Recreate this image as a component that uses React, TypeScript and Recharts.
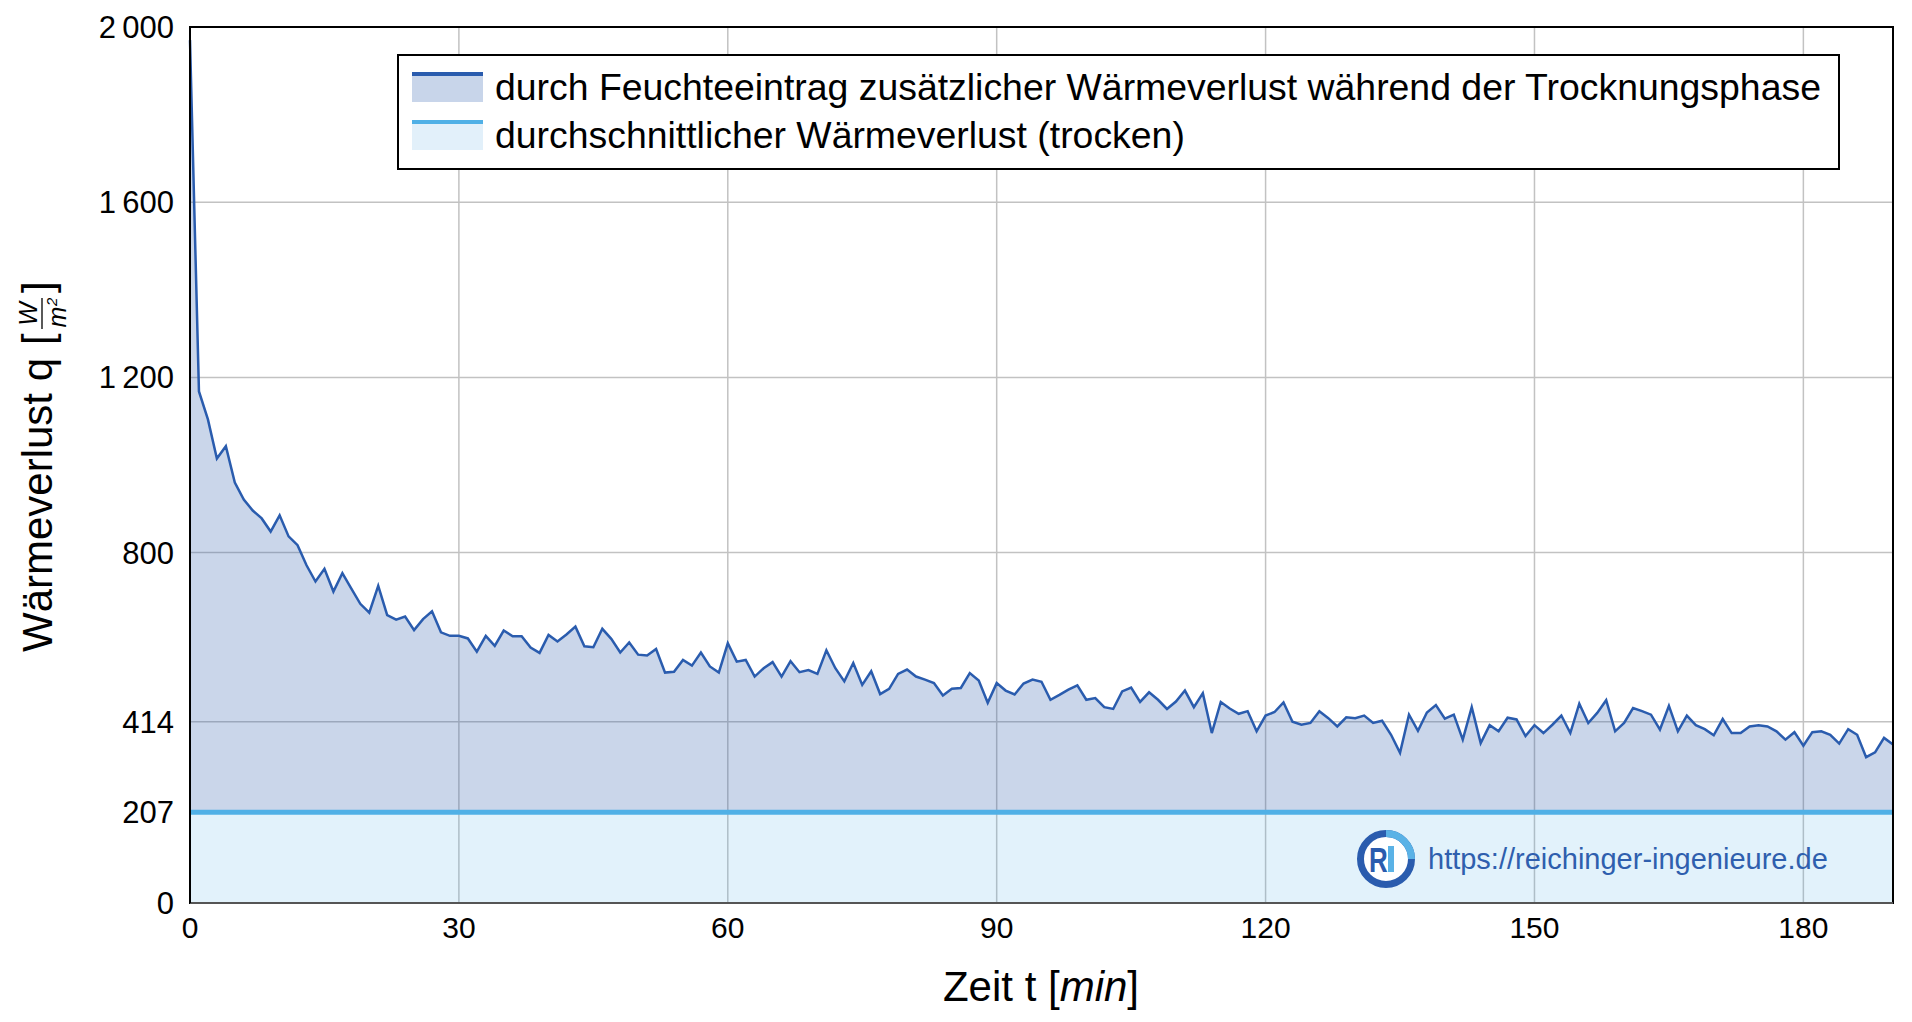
import { ComposedChart, Area, XAxis, YAxis, CartesianGrid, ReferenceArea, Legend } from 'recharts'

// heat loss q [W/m²] during drying, one reading per minute from t = 0
const heatLoss = [
  1970, 1168, 1104, 1015, 1043, 960, 921, 896, 878, 848,
  885, 837, 817, 771, 734, 763, 711, 753, 718, 683,
  663, 724, 657, 647, 654, 623, 648, 666, 618, 610,
  610, 604, 574, 610, 587, 622, 609, 609, 583, 571,
  612, 597, 613, 631, 586, 584, 626, 603, 572, 595,
  567, 565, 580, 526, 528, 555, 542, 572, 540, 526,
  593, 551, 555, 517, 536, 550, 517, 552, 527, 532,
  523, 577, 536, 506, 548, 498, 529, 477, 489, 523,
  533, 517, 510, 502, 474, 489, 491, 525, 508, 457,
  502, 485, 476, 501, 510, 505, 464, 475, 487, 497,
  464, 468, 447, 443, 483, 492, 459, 481, 464, 443,
  460, 485, 447, 479, 388, 459, 444, 432, 438, 392,
  428, 436, 458, 414, 407, 411, 438, 422, 403, 424,
  422, 428, 411, 416, 384, 343, 430, 393, 435, 452,
  421, 430, 373, 447, 365, 406, 392, 423, 419, 381,
  406, 388, 407, 428, 388, 455, 411, 434, 463, 392,
  411, 445, 438, 430, 396, 450, 392, 428, 406, 397,
  383, 420, 388, 388, 403, 406, 403, 392, 373, 390,
  359, 390, 392, 384, 364, 397, 384, 333, 344, 377,
  362,
]
const minutes = heatLoss.map((_, i) => i)
const AVG_DRY = 207

const xTicks = [0, 30, 60, 90, 120, 150, 180]
const yTicks = [0, 207, 414, 800, 1200, 1600, 2000]

const legendItems = [
  { label: 'durch Feuchteeintrag zusätzlicher Wärmeverlust während der Trocknungsphase', line: '#2a5cae', fill: '#c8d5ea' },
  { label: 'durchschnittlicher Wärmeverlust (trocken)', line: '#50b0e6', fill: '#e2f0fa' },
]

const data = minutes.map((t, i) => ({ t, q: [AVG_DRY, heatLoss[i]], avg: AVG_DRY }))

const FONT = '"Liberation Sans", Arial, sans-serif'

const fmt = (v: number) =>
  v >= 1000 ? `${Math.floor(v / 1000)}\u2009${String(v % 1000).padStart(3, '0')}` : String(v)

function LegendBox() {
  return (
    <div
      style={{
        width: 1443,
        height: 116,
        boxSizing: 'border-box',
        border: '2px solid #000',
        background: '#fff',
        fontFamily: FONT,
        paddingTop: 7,
      }}
    >
      {legendItems.map((it) => (
        <div key={it.label} style={{ display: 'flex', alignItems: 'center', height: 48, paddingLeft: 13 }}>
          <span style={{ display: 'inline-block', width: 71, height: 30, background: it.fill, borderTop: `4px solid ${it.line}`, boxSizing: 'border-box' }} />
          <span style={{ marginLeft: 12, fontSize: 37.4, color: '#000', whiteSpace: 'nowrap' }}>{it.label}</span>
        </div>
      ))}
    </div>
  )
}

function YTitle() {
  return (
    <g transform="translate(40,465) rotate(-90)" fontFamily={FONT} fill="#000">
      <text x={-187} y={12} fontSize={42}>Wärmeverlust q</text>
      <text x={120} y={12} fontSize={42}>[</text>
      <text x={151} y={-3} fontSize={25} fontStyle="italic" textAnchor="middle">W</text>
      <line x1={136} x2={167} y1={2} y2={2} stroke="#000" strokeWidth={1.3} />
      <text x={148} y={26} fontSize={25} fontStyle="italic" textAnchor="middle">m</text>
      <text x={159} y={17} fontSize={15} fontStyle="italic">2</text>
      <text x={172} y={12} fontSize={42}>]</text>
    </g>
  )
}

function XTitle() {
  return (
    <text x={1041} y={1001} textAnchor="middle" fontSize={42} fontFamily={FONT} fill="#000">
      Zeit t [<tspan fontStyle="italic">min</tspan>]
    </text>
  )
}

function Watermark() {
  return (
    <div style={{ position: 'absolute', left: 1355, top: 828, display: 'flex', alignItems: 'center', pointerEvents: 'none' }}>
      <svg width={62} height={62} viewBox="0 0 62 62">
        <circle cx={31} cy={31} r={25.5} fill="#fff" stroke="#2a5cae" strokeWidth={7} />
        <path d="M31 5.5 A25.5 25.5 0 0 1 56.5 31" fill="none" stroke="#5ab2e6" strokeWidth={7} />
        <text x={0} y={0} fontSize={36} fontWeight={700} fill="#2a5cae" fontFamily={FONT} transform="translate(14,44) scale(0.72,1)">R</text>
        <rect x={33} y={18} width={6} height={26} fill="#5ab2e6" />
      </svg>
      <span style={{ marginLeft: 11, fontSize: 29, color: '#2f5fae', fontFamily: FONT }}>https://reichinger-ingenieure.de</span>
    </div>
  )
}

export default function App() {
  return (
    <div style={{ position: 'absolute', left: 0, top: 0, width: 1912, height: 1022, background: '#fff' }}>
      <ComposedChart width={1912} height={1022} data={data} margin={{ top: 27, right: 19, left: 0, bottom: 0 }}>
        <CartesianGrid stroke="#c2c2c2" strokeWidth={1.5} />
        <XAxis
          dataKey="t"
          type="number"
          domain={[0, 190]}
          ticks={xTicks}
          height={119}
          tickLine={false}
          tickSize={0}
          tickMargin={14}
          axisLine={{ stroke: '#555', strokeWidth: 2 }}
          tick={{ fontSize: 30, fill: '#000', fontFamily: FONT }}
          label={{ content: () => <XTitle /> }}
        />
        <YAxis
          type="number"
          domain={[0, 2000]}
          ticks={yTicks}
          width={190}
          tickLine={false}
          tickSize={0}
          tickMargin={16}
          interval={0}
          axisLine={{ stroke: '#000', strokeWidth: 2 }}
          tickFormatter={fmt}
          tick={{ fontSize: 31, fill: '#000', fontFamily: FONT }}
          label={{ content: () => <YTitle /> }}
        />
        <Area
          dataKey="q"
          type="linear"
          stroke="#2a5cae"
          strokeWidth={2.5}
          fill="#2a5caa"
          fillOpacity={0.25}
          isAnimationActive={false}
          dot={false}
          activeDot={false}
        />
        <Area
          dataKey="avg"
          type="linear"
          stroke="#50b0e6"
          strokeWidth={5}
          fill="#4aade6"
          fillOpacity={0.16}
          isAnimationActive={false}
          dot={false}
          activeDot={false}
        />
        <ReferenceArea x1={0} x2={190} y1={0} y2={2000} fill="none" stroke="#000" strokeWidth={2} ifOverflow="visible" />
        <Legend
          layout="horizontal"
          verticalAlign="middle"
          wrapperStyle={{ left: 397, top: 54, width: 1443 }}
          content={() => <LegendBox />}
        />
      </ComposedChart>
      <Watermark />
    </div>
  )
}
